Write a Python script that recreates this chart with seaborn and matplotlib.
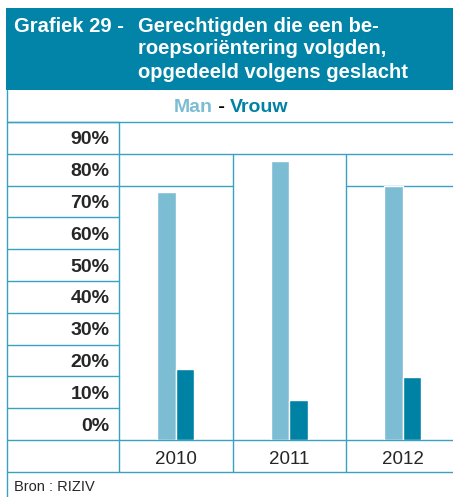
import matplotlib
matplotlib.use("Agg")
import matplotlib.pyplot as plt
import numpy as np
import pandas as pd
import seaborn as sns

# data
years = ["2010", "2011", "2012"]
man = [78.0, 87.7, 80.0]
vrouw = [22.3, 12.6, 19.8]
tick_labels = ["0%", "10%", "20%", "30%", "40%", "50%", "60%", "70%", "80%", "90%"]

HEADER = "#0284A8"
LINE = "#3BA1C2"
MAN_C = "#7DBDD4"
VROUW_C = "#0082A5"

W, H = 453, 497

sns.set_style("white")
plt.rcParams["font.family"] = ["Liberation Sans", "DejaVu Sans"]

df = pd.DataFrame({
    "year": years * 2,
    "value": man + vrouw,
    "sex": ["Man"] * 3 + ["Vrouw"] * 3,
})

fig = plt.figure(figsize=(W / 100, H / 100), dpi=100)

# background layer in pixel coordinates for the table frame
bg = fig.add_axes([0, 0, 1, 1])
bg.set_xlim(0, W)
bg.set_ylim(H, 0)
bg.axis("off")

bg.add_patch(plt.Rectangle((6, 8), W - 6, 82, color=HEADER, lw=0))
bg.text(14, 26, "Grafiek 29 -", color="white", fontsize=14.5, fontweight="bold", va="center")
for i, line in enumerate(["Gerechtigden die een be-", "roepsoriëntering volgden,",
                          "opgedeeld volgens geslacht"]):
    bg.text(138, 26 + i * 23, line, color="white", fontsize=14.5, fontweight="bold", va="center")

# legend row: place the three pieces one after another
renderer = fig.canvas.get_renderer()
parts = [("Man", MAN_C), (" - ", "black"), ("Vrouw", VROUW_C)]
objs = [bg.text(0, 107, s, color=c, fontsize=14, fontweight="bold", va="center") for s, c in parts]
widths = [o.get_window_extent(renderer).width for o in objs]
x = 231 - sum(widths) / 2
for o, w in zip(objs, widths):
    o.set_x(x)
    x += w

lw = 1.0
row = 31.8
top, base = 122, 440
# outer left border
bg.plot([6.5, 6.5], [90, H], color=LINE, lw=lw)
# label column rows
for k in range(11):
    y = top + k * row
    bg.plot([6.5, 119], [y, y], color=LINE, lw=lw)
bg.plot([6.5, W], [top, top], color=LINE, lw=lw)
bg.plot([6.5, W], [472, 472], color=LINE, lw=lw)
bg.plot([119, W], [base, base], color=LINE, lw=lw)
bg.plot([119, 119], [top, 472], color=LINE, lw=lw)
# data column cells
bg.plot([119, W], [154, 154], color=LINE, lw=lw)
bg.plot([119, 233], [186, 186], color=LINE, lw=lw)
bg.plot([346, W], [186, 186], color=LINE, lw=lw)
bg.plot([233, 233], [154, 472], color=LINE, lw=lw)
bg.plot([346, 346], [154, 472], color=LINE, lw=lw)

bg.text(14, 487, "Bron : RIZIV", fontsize=10.5, va="center")

# bar layer
ax = fig.add_axes([119 / W, (H - base) / H, 340.5 / W, (base - top) / H])
ax.patch.set_alpha(0)
sns.barplot(data=df, x="year", y="value", hue="sex", palette=[MAN_C, VROUW_C],
            width=0.326, saturation=1, legend=False, ax=ax)
ax.set_xlim(-0.5, 2.5)
ax.set_ylim(0, 100)
ax.set_xlabel("")
ax.set_ylabel("")
for s in ax.spines.values():
    s.set_visible(False)
ax.set_yticks(np.arange(5, 100, 10))
ax.set_yticklabels(tick_labels, fontsize=14, fontweight="bold")
ax.set_xticks(range(len(years)))
ax.set_xticklabels(years, fontsize=13.5)
ax.tick_params(axis="y", length=0, pad=7)
ax.tick_params(axis="x", length=0, pad=8)

fig.savefig("out.png", dpi=100)
